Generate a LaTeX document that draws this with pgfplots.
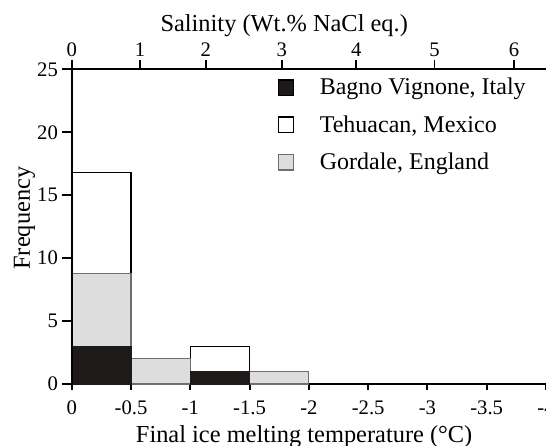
\documentclass[border=0pt]{standalone}
\usepackage{fontspec}
\setmainfont{Liberation Serif}
\usepackage{pgfplots}
\pgfplotsset{compat=1.18}

\definecolor{darkfill}{RGB}{30,26,26}
\definecolor{grayfill}{RGB}{221,221,221}
\definecolor{grayedge}{RGB}{110,110,110}

\begin{document}
\begin{tikzpicture}
\pgfplotsset{
  every non boxed x axis/.append style={xtick align=outside},
  every non boxed y axis/.append style={ytick align=outside},
  every axis/.append style={font=\fontsize{18.3}{21}\selectfont},
  common/.style={
    scale only axis, width=355.7pt, height=236pt,
    xmin=-4, xmax=0, ymin=0, ymax=25, x dir=reverse,
    axis line style={-, line width=1.4pt},
    every tick/.style={black, line width=1.4pt},
    tick label style={font=\fontsize{15.5}{17}\selectfont, inner sep=1pt},
  },
}
\begin{axis}[
  common,
  axis x line*=bottom, axis y line*=left,
  xtick align=outside,
  major tick length=4.5pt,
  ybar, bar width=0.5, bar shift=0pt,
  xtick={0,-0.5,-1,-1.5,-2,-2.5,-3,-3.5,-4},
  xticklabels={0,-0.5,-1,-1.5,-2,-2.5,-3,-3.5,-4},
  xticklabel style={yshift=-7pt},
  ytick=\empty,
  xlabel={Final ice melting temperature (°C)},
  xlabel style={at={(axis description cs:0.49,0)}, anchor=base, yshift=-44pt},
  legend image code/.code={\draw[#1, line width=1.2pt] (0pt,-5.75pt) rectangle (11.5pt,5.75pt);},
  legend style={draw=none, fill=none, at={(0.425,0.985)}, anchor=north west,
    row sep=12pt, font=\fontsize{18}{20}\selectfont,
    nodes={inner sep=1pt}},
  legend cell align=left,
]
\addlegendimage{fill=darkfill, draw=black}
\addlegendentry{\hspace{18pt}Bagno Vignone, Italy}
\addlegendimage{fill=white, draw=black}
\addlegendentry{\hspace{18pt}Tehuacan, Mexico}
\addlegendimage{fill=grayfill, draw=grayedge}
\addlegendentry{\hspace{18pt}Gordale, England}

% cumulative heights, drawn tallest first
\addplot[fill=white, draw=black, line width=0.8pt] coordinates {(-0.25,16.8) (-1.25,3)};
\addplot[fill=grayfill, draw=grayedge, line width=0.8pt] coordinates {(-0.25,8.8) (-0.75,2) (-1.75,1)};
\addplot[fill=darkfill, draw=darkfill, line width=0.8pt] coordinates {(-0.25,3) (-1.25,1)};
\end{axis}

\begin{axis}[
  common,
  axis x line*=top, axis y line*=left,
  tick align=outside,
  major tick length=7.2pt,
  xtick={0,-0.576,-1.131,-1.772,-2.40,-3.06,-3.73},
  xticklabels={0,1,2,3,4,5,6},
  xticklabel style={yshift=1pt},
  ytick={0,5,10,15,20,25},
  yticklabel style={xshift=-2pt},
  /pgf/number format/assume math mode=true,
  xlabel={Salinity (Wt.\% NaCl eq.)},
  xlabel style={at={(axis description cs:0.448,1)}, anchor=base, yshift=28.2pt},
  ylabel={Frequency},
  ylabel style={at={(axis description cs:0,0.527)}, anchor=base, yshift=31.3pt},
]
\end{axis}

\pgfresetboundingbox
\path[use as bounding box] (-53.8pt,-46.5pt) rectangle (355.7pt,288pt);
\end{tikzpicture}
\end{document}
